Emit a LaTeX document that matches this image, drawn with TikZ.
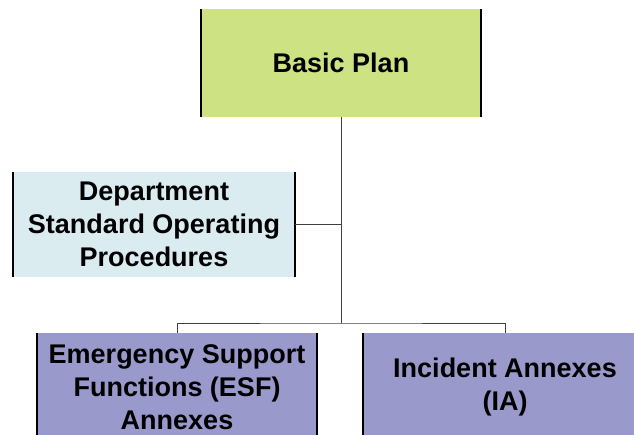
\documentclass[tikz,border=0pt]{standalone}
\usepackage{fontspec}
\setmainfont{Liberation Sans}
\usetikzlibrary{calc}

\definecolor{plangreen}{RGB}{205,226,130}
\definecolor{sopblue}{RGB}{219,236,241}
\definecolor{annexpurple}{RGB}{153,153,204}

\tikzset{
    box/.style={fill=#1, inner sep=0pt, align=center, font=\bfseries\fontsize{27}{33}\selectfont},
    side/.style={line width=2.2pt, black},
    link/.style={line width=0.9pt, black!75}
}

\begin{document}
\begin{tikzpicture}[x=1pt, y=-1pt]
    \useasboundingbox (0,0) rectangle (634,434);

    % ===== boxes =====
    \node[box=plangreen, minimum width=280pt, minimum height=108pt] (plan) at (341, 63) {Basic Plan};
    \node[box=sopblue, minimum width=282pt, minimum height=105pt] (sop) at (154, 224.5) {Department\\Standard Operating\\Procedures};
    \node[box=annexpurple, minimum width=280pt, minimum height=108pt] (esf) at (177, 387) {Emergency Support\\Functions (ESF)\\Annexes};
    \node[box=annexpurple, minimum width=284pt, minimum height=108pt] (ia) at (505, 387) {Incident Annexes\\(IA)};

    % thick black edges on the left and right of each box
    \foreach \n in {plan, sop, esf, ia}
        \draw[side] (\n.north west) -- (\n.south west) (\n.north east) -- (\n.south east);

    % ===== connectors =====
    \coordinate (split) at (plan.south |- 0, 323);
    \draw[link] (plan.south) -- (split);
    \draw[link] (sop.east) -- (sop.east -| plan.south);
    \draw[link] (esf.north) |- (split) -| (ia.north);
\end{tikzpicture}
\end{document}
